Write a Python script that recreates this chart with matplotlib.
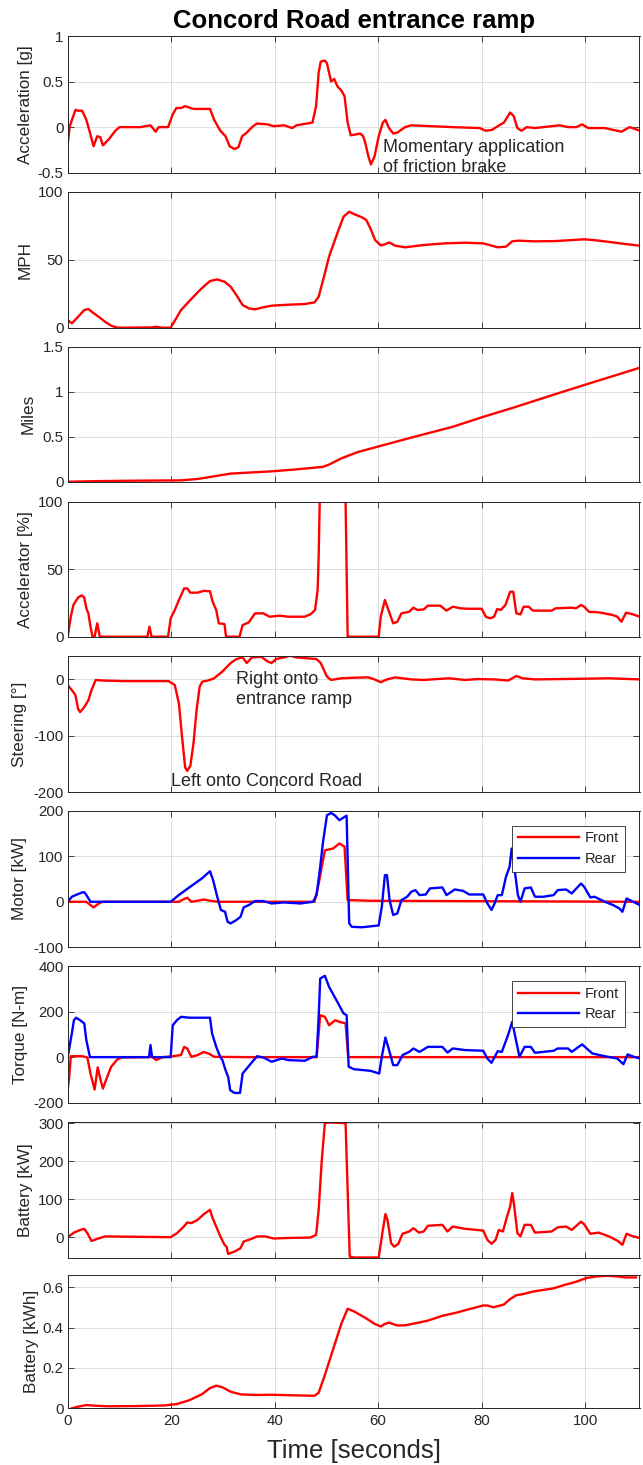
import matplotlib.pyplot as plt

plt.rcParams['font.family'] = ['Liberation Sans', 'DejaVu Sans']
plt.rcParams['axes.unicode_minus'] = False

# ---- data ----
accel_t = [0, 0.4, 1.5, 2.0, 2.8, 3.6, 4.3, 5.0, 5.7, 6.3, 6.8, 8.0, 9.2, 10.0, 14.0, 16.0, 17.0, 17.6,
           19.4, 20.3, 21.0, 21.9, 22.7, 24.3, 26.7, 27.5, 28.3, 29.5, 30.5, 31.3, 32.2, 33.0, 33.7, 34.6,
           35.8, 36.6, 38.6, 39.8, 41.8, 43.4, 44.2, 47.3, 48.0, 48.5, 48.9, 49.7, 50.1, 50.9, 51.5, 52.1,
           52.9, 53.5, 54.1, 54.7, 55.7, 56.5, 57.1, 57.5, 58.1, 58.6, 59.3, 60.1, 60.9, 61.4, 62.1, 62.9,
           63.7, 65.2, 66.4, 70.4, 74.4, 79.6, 80.8, 82.0, 83.1, 84.3, 85.5, 86.2, 86.9, 87.7, 88.7, 90.3,
           93.5, 95.1, 96.7, 98.3, 99.4, 100.6, 103.8, 106.2, 107.0, 108.6, 110.6]
accel_g = [-0.19, 0.01, 0.19, 0.18, 0.18, 0.08, -0.06, -0.21, -0.10, -0.11, -0.20, -0.13, -0.04, 0.0, 0.0,
           0.02, -0.05, 0.0, 0.0, 0.14, 0.21, 0.21, 0.23, 0.20, 0.20, 0.20, 0.08, -0.04, -0.10, -0.21, -0.24,
           -0.22, -0.10, -0.06, 0.01, 0.04, 0.03, 0.01, 0.02, -0.01, 0.02, 0.05, 0.23, 0.60, 0.72, 0.73, 0.70,
           0.50, 0.53, 0.45, 0.40, 0.34, 0.05, -0.09, -0.08, -0.07, -0.10, -0.17, -0.32, -0.41, -0.32, -0.10,
           0.05, 0.08, -0.01, -0.07, -0.06, 0.0, 0.02, 0.01, 0.0, -0.01, -0.04, -0.03, 0.01, 0.05, 0.16, 0.12,
           -0.01, -0.04, 0.0, -0.01, 0.01, 0.02, 0.0, 0.0, 0.03, -0.01, -0.01, -0.04, -0.05, 0.0, -0.04]

mph_t = [0, 0.8, 2.0, 3.2, 4.0, 4.8, 6.0, 7.2, 8.4, 9.6, 16.3, 17.1, 18.3, 19.9, 21.9, 24.3, 25.9, 27.5,
         28.9, 30.3, 31.5, 32.6, 33.8, 35.0, 36.2, 37.8, 39.4, 42.6, 45.8, 47.7, 48.5, 49.7, 50.5, 52.1,
         53.3, 54.4, 55.3, 56.9, 57.7, 58.5, 59.4, 60.5, 61.3, 62.1, 63.3, 65.2, 68.8, 72.8, 76.8, 80.3,
         81.5, 83.1, 84.7, 85.9, 87.1, 90.3, 94.3, 99.8, 102.2, 105.4, 107.8, 110.6]
mph = [5.6, 3.2, 8, 13, 13.7, 11.3, 8, 4.4, 1.5, 0, 0.2, 0.7, 0, 0, 13, 22.8, 29, 34.3, 35.5, 33.8, 30.1,
       24, 16.7, 14.2, 13.5, 15, 16.2, 16.9, 17.4, 18.6, 22.8, 40, 52.2, 69.4, 81.6, 85.3, 83.6, 81.1,
       79.2, 73, 64.5, 60.5, 61.3, 62.7, 60.3, 59.1, 60.8, 62, 62.5, 62, 60.8, 59.1, 59.6, 63.5, 64, 63.5,
       63.7, 65, 64.2, 62.7, 61.5, 60.3]

miles_t = [0.4, 4.4, 10.8, 21.9, 25.1, 28.3, 31.5, 34.6, 39.4, 44.2, 49.3, 50.5, 52.9, 56.1, 59.3, 66.4,
           74.4, 80.0, 86.3, 94.3, 99.8, 110.6]
miles = [0.0, 0.005, 0.01, 0.015, 0.03, 0.06, 0.09, 0.10, 0.115, 0.137, 0.165, 0.19, 0.26, 0.33, 0.38,
         0.49, 0.61, 0.715, 0.826, 0.974, 1.074, 1.267]

pedal_t = [0, 0.6, 1.1, 2.0, 2.7, 3.2, 3.6, 4.0, 4.4, 4.8, 5.2, 5.7, 6.2, 15.4, 15.8, 16.2, 19.4, 19.9,
           20.7, 21.5, 22.5, 23.1, 23.7, 25.1, 26.3, 27.5, 28.0, 28.7, 29.2, 30.3, 30.6, 33.2, 33.8, 35.0,
           36.2, 37.8, 39.0, 41.0, 42.6, 45.8, 47.0, 47.8, 48.3, 48.5, 48.7, 53.7, 54.1, 60.1, 60.5, 61.3,
           62.1, 62.9, 63.7, 64.5, 66.0, 66.8, 67.6, 68.8, 69.6, 72.0, 73.2, 74.4, 76.0, 77.2, 80.0, 80.8,
           81.6, 82.4, 83.0, 83.7, 84.6, 85.5, 86.1, 86.7, 87.5, 88.1, 89.1, 89.9, 93.5, 94.3, 97.4, 98.2,
           99.2, 99.8, 100.8, 101.8, 103.0, 105.4, 106.2, 107.0, 107.9, 109.0, 110.6]
pedal = [0, 14.8, 23.5, 29, 30.6, 29, 21, 17.3, 7.4, 0, 0, 9.9, 0, 0, 7.4, 0, 0, 13.6, 19.8, 27.2, 35.8,
         35.8, 32.6, 32.6, 34, 33.6, 26, 19.8, 9.9, 9.4, 0, 0, 8.6, 10.6, 17.3, 17.3, 14.8, 15.6, 14.8, 14.8,
         16.8, 19.8, 34.6, 59.3, 100, 100, 0, 0, 14.8, 27.2, 18.5, 9.9, 11.1, 17.3, 18.5, 21.5, 19.8, 20.2,
         23, 23, 19.3, 22.2, 21, 20.7, 20.7, 14.8, 13.6, 14.8, 20.5, 19.8, 23.5, 33.3, 33.3, 17.3, 16.5, 22.2,
         22.2, 19.3, 19.3, 21, 21.5, 21, 23.5, 22.2, 18.3, 18.3, 17.8, 16, 14.8, 11.1, 17.8, 16.8, 14.8]

steer_t = [0, 0.8, 1.5, 2.0, 2.4, 3.2, 4.0, 4.6, 5.4, 6.8, 10.8, 19.5, 20.7, 21.5, 22.1, 22.7, 23.1, 23.7,
           24.3, 24.9, 25.5, 26.0, 27.1, 28.3, 29.9, 31.5, 32.6, 33.8, 34.6, 35.6, 37.4, 38.6, 39.4, 40.2,
           41.8, 43.0, 44.2, 46.2, 48.1, 48.9, 50.1, 50.9, 52.9, 55.3, 58.1, 59.3, 60.5, 61.7, 63.3, 66.4,
           68.8, 73.6, 76.8, 79.2, 82.4, 85.1, 86.7, 87.9, 90.3, 98.3, 104.6, 110.6]
steer = [-10, -19, -28, -52, -58, -49, -37, -19, -1, -2, -3, -3, -10, -43, -102, -156, -162, -153, -114,
         -55, -13, -4, -2, 2, 14, 29, 36, 39, 29, 39, 40, 32, 29, 36, 39, 42, 39, 37.5, 36, 29, 5, -1, 2, 3,
         3.6, 0, -5, 0, 3.6, 0, -1, 2, -1, 0.6, 0, -2, 6, 2, 0, 1, 2, 0]

mrear_t = [0, 0.8, 1.6, 2.8, 3.2, 3.6, 4.4, 19.9, 21.5, 23.5, 25.9, 27.5, 28.1, 28.9, 29.6, 30.4, 30.9,
           31.5, 32.6, 33.4, 34.0, 35.0, 36.2, 37.8, 39.4, 41.8, 45.0, 47.4, 48.1, 48.8, 49.3, 50.1, 50.9,
           51.7, 52.5, 53.3, 53.9, 54.4, 54.9, 56.9, 60.1, 60.7, 61.3, 61.7, 62.2, 62.9, 63.7, 64.5, 65.6,
           66.4, 67.2, 68.0, 69.2, 70.0, 72.4, 73.2, 74.8, 76.4, 77.6, 80.3, 81.1, 81.9, 82.5, 83.1, 83.9,
           84.7, 85.4, 85.8, 86.3, 87.0, 87.5, 88.3, 89.5, 90.3, 91.9, 93.9, 94.7, 96.3, 97.4, 99.2, 99.8,
           101.0, 101.8, 103.8, 105.4, 106.6, 107.2, 108.0, 109.0, 110.6]
mrear = [0, 11, 15, 20.5, 21, 15, 0, 0, 15, 31.5, 51, 67, 47.5, 11, -18, -22, -44, -47.5, -40, -33, -12.4,
         -7.3, 1.5, 1.5, -3.7, -1.5, -3.7, 0, 14.6, 77, 128, 190, 195, 189, 179, 185, 189, -47.5, -55, -56,
         -52, -11, 58.5, 58.5, 3.7, -29, -25.6, 3.7, 11, 22, 25.6, 14.6, 16, 29.3, 31.5, 14.6, 27, 24, 16,
         16, -3.7, -18, -3.7, 14.6, 14.6, 55, 77, 117, 77, 14.6, 0, 29.3, 31.5, 11, 11, 14.6, 25.6, 27, 18.3,
         40, 33, 9.5, 11, 0, -7.3, -14.6, -22, 7.3, 1.5, -7.3]

mfront_t = [0, 3.6, 4.4, 5.0, 6.0, 6.8, 21.5, 22.3, 23.1, 23.9, 25.1, 26.3, 27.5, 29.1, 47.7, 48.5, 49.1,
            49.7, 50.5, 51.3, 52.5, 53.5, 54.1, 58.5, 110.6]
mfront = [0, 0, -7.3, -12.4, -3.7, 0, 0, 5, 8.8, 0, 2.2, 5, 2.2, 0, 0, 40, 77, 113, 115, 117, 128, 121,
          3.7, 2.2, 0]

trear_t = [0, 0.8, 1.2, 1.6, 2.4, 3.2, 3.6, 4.3, 15.7, 16.0, 16.3, 19.9, 20.3, 21.1, 21.9, 23.5, 27.5,
           27.9, 28.7, 29.5, 29.9, 30.5, 31.0, 31.4, 32.2, 33.3, 33.8, 34.6, 35.4, 36.6, 37.8, 39.4, 41.4,
           42.6, 45.8, 47.4, 48.1, 48.5, 48.8, 49.7, 50.5, 52.1, 53.3, 53.9, 54.3, 55.3, 58.5, 60.2, 60.7,
           61.4, 62.1, 62.9, 63.7, 64.7, 66.0, 66.8, 68.0, 69.6, 72.4, 73.4, 74.4, 76.8, 80.3, 81.1, 81.9,
           83.1, 83.9, 85.1, 85.9, 86.5, 87.3, 88.3, 89.5, 90.3, 93.9, 94.7, 96.7, 97.4, 99.4, 101.4, 103.8,
           106.2, 107.4, 108.2, 109.4, 110.6]
trear = [0, 104, 162, 173, 162, 148, 75, 0, 0, 53, 0, 0, 140, 162, 177, 173, 173, 104, 45, 0, -13, -57,
         -86, -145, -157, -157, -72, -50, -28, 4, -1.5, -20, -6, -13, -16, 1.5, 1.5, 177, 345, 357, 309, 243,
         192, 184, -42, -53, -60, -72, 1.5, 86, 31, -35, -35, 9, 23, 38, 23, 45, 45, 20, 38, 31, 28, -6, -25,
         26, 23, 97, 155, 89, 1.5, 45, 45, 19, 28, 38, 38, 23, 56, 16, 4, -6, -31, 12, 1.5, -6]

tfront_t = [0, 0.3, 0.6, 2.8, 3.8, 4.4, 5.2, 5.8, 6.2, 6.8, 7.4, 8.4, 9.6, 10.4, 15.5, 16.3, 17.1, 18.3,
            20.3, 21.9, 22.5, 23.1, 23.9, 25.1, 26.3, 27.5, 28.3, 34.6, 48.1, 48.8, 49.7, 50.5, 51.7, 52.5,
            53.7, 54.2, 110.6]
tfront = [-145, -86, 4, 4, -1.5, -72, -142, -45, -86, -138, -101, -42, -10, -1.5, 0, 1.5, -13, 0, 4, 9,
          45, 38, 1.5, 9, 23, 13, 1.5, 0, 0, 184, 177, 140, 162, 155, 148, 0, 0]

batt_t = [0, 1.2, 2.4, 3.2, 3.8, 4.6, 5.6, 7.2, 19.9, 21.1, 22.3, 23.1, 23.9, 25.1, 26.3, 27.5, 27.9, 28.7,
          29.5, 30.3, 30.7, 31.0, 32.2, 33.4, 34.0, 35.4, 36.6, 38.2, 39.8, 42.6, 46.9, 48.0, 48.5, 49.1,
          49.7, 50.5, 53.7, 54.5, 55.3, 60.1, 60.9, 61.4, 61.8, 62.5, 63.1, 63.9, 64.7, 66.0, 66.8, 67.9,
          68.8, 69.6, 72.4, 73.4, 74.4, 76.8, 80.3, 81.1, 81.9, 82.7, 83.3, 84.1, 84.9, 85.5, 85.9, 86.3,
          86.9, 87.5, 88.3, 89.5, 90.3, 93.5, 94.7, 96.3, 97.4, 99.2, 99.8, 101.0, 102.6, 104.6, 106.2,
          107.2, 108.0, 109.0, 110.6]
batt_kw = [0, 12, 19, 22, 10.5, -10, -5, 2, 0, 10.5, 26, 38.6, 37, 45.6, 60.5, 72, 54, 28, 2, -20, -25, -44,
           -38, -29, -11.4, -5, 2, 2, -3.5, -2, -1, 6, 72, 203, 300, 302, 300, -51, -53.5, -53.5, 19, 61, 46,
           -16, -25, -17.5, 9, 15, 23.7, 12, 15, 30, 32.5, 15, 28, 22, 17.5, -7, -17.5, -7, 19, 15, 54, 80.7,
           116, 80.7, 10.5, 2, 32.5, 32.5, 12, 15, 26, 28, 19, 41, 34, 9, 12, 2, -9, -20, 9, 3.5, -2.6]

kwh_t = [0.8, 2.0, 3.6, 5.2, 7.6, 13.2, 18.7, 21.1, 23.5, 25.9, 27.5, 28.7, 29.9, 31.5, 33.4, 36.2, 39.4,
         44.2, 47.7, 48.5, 49.7, 51.3, 52.9, 54.1, 55.3, 57.7, 59.3, 60.5, 61.3, 62.1, 63.7, 65.2, 67.2,
         69.6, 72.4, 75.2, 77.6, 80.3, 81.1, 82.3, 84.3, 85.5, 86.7, 87.9, 89.9, 91.9, 93.9, 95.9, 98.2,
         100.2, 102.2, 104.2, 106.2, 107.8, 109.8]
kwh = [0.0, 0.008, 0.016, 0.013, 0.01, 0.011, 0.014, 0.021, 0.04, 0.069, 0.1, 0.112, 0.104, 0.082, 0.069,
       0.066, 0.067, 0.064, 0.062, 0.077, 0.165, 0.293, 0.42, 0.493, 0.48, 0.445, 0.418, 0.405, 0.418, 0.424,
       0.41, 0.411, 0.421, 0.434, 0.458, 0.474, 0.491, 0.509, 0.509, 0.5, 0.514, 0.541, 0.56, 0.565, 0.578,
       0.586, 0.594, 0.61, 0.626, 0.645, 0.653, 0.656, 0.653, 0.648, 0.648]

# ---- layout (pixel boxes of the 9 panels) ----
W, H = 643, 1465
left_px, right_px = 67.7, 639.5
panel_px = [(36, 172.7), (191.7, 327.7), (346.7, 481.7), (501.7, 636.7), (655.7, 792.3),
            (810.7, 947.3), (966, 1102.7), (1121.7, 1257.7), (1275, 1408.3)]

DARK = '#262626'
RED = '#FF0000'
BLUE = '#0000FF'
LW = 1.7

fig = plt.figure(figsize=(W / 100, H / 100), dpi=100)
axes = []
for top, bot in panel_px:
    ax = fig.add_axes([left_px / W, 1 - bot / H, (right_px - left_px) / W, (bot - top) / H])
    ax.set_xlim(0, 110.5)
    ax.set_xticks([0, 20, 40, 60, 80, 100])
    ax.grid(True, color='#dcdcdc', linewidth=0.7)
    ax.set_axisbelow(True)
    ax.tick_params(direction='in', top=True, right=True, length=4, width=0.6,
                   colors=DARK, labelsize=10.8, pad=3)
    for s in ax.spines.values():
        s.set_color(DARK)
        s.set_linewidth(0.7)
    axes.append(ax)

for ax in axes[:-1]:
    ax.tick_params(labelbottom=False)


def ylab(ax, text, right_edge_px):
    ax.set_ylabel(text, fontsize=12.3, color=DARK)
    ax.yaxis.set_label_coords((right_edge_px - left_px) / (right_px - left_px), 0.5)


# 1 acceleration
ax = axes[0]
ax.plot(accel_t, accel_g, color=RED, lw=LW)
ax.set_ylim(-0.5, 1)
ax.set_yticks([-0.5, 0, 0.5, 1])
ax.set_yticklabels(['-0.5', '0', '0.5', '1'])
ylab(ax, 'Acceleration [g]', 33)
ax.text(61, -0.13, 'Momentary application\nof friction brake', fontsize=13, color=DARK,
        va='top', ha='left', linespacing=1.25, clip_on=False)

# 2 speed
ax = axes[1]
ax.plot(mph_t, mph, color=RED, lw=LW)
ax.set_ylim(0, 100)
ax.set_yticks([0, 50, 100])
ylab(ax, 'MPH', 33)

# 3 distance
ax = axes[2]
ax.plot(miles_t, miles, color=RED, lw=LW)
ax.set_ylim(0, 1.5)
ax.set_yticks([0, 0.5, 1, 1.5])
ax.set_yticklabels(['0', '0.5', '1', '1.5'])
ylab(ax, 'Miles', 36)

# 4 accelerator pedal
ax = axes[3]
ax.plot(pedal_t, pedal, color=RED, lw=LW)
ax.set_ylim(0, 100)
ax.set_yticks([0, 50, 100])
ylab(ax, 'Accelerator [%]', 33)

# 5 steering
ax = axes[4]
ax.plot(steer_t, steer, color=RED, lw=LW)
ax.set_ylim(-200, 42)
ax.set_yticks([-200, -100, 0])
ylab(ax, 'Steering [°]', 27)
ax.text(32.6, 15, 'Right onto\nentrance ramp', fontsize=13, color=DARK, va='top', ha='left',
        linespacing=1.25)
ax.text(19.9, -181, 'Left onto Concord Road', fontsize=13, color=DARK, va='center', ha='left')

# 6 motor power
ax = axes[5]
ax.plot(mfront_t, mfront, color=RED, lw=LW, label='Front')
ax.plot(mrear_t, mrear, color=BLUE, lw=LW, label='Rear')
ax.set_ylim(-100, 200)
ax.set_yticks([-100, 0, 100, 200])
ylab(ax, 'Motor [kW]', 27)

# 7 torque
ax = axes[6]
ax.plot(tfront_t, tfront, color=RED, lw=LW, label='Front')
ax.plot(trear_t, trear, color=BLUE, lw=LW, label='Rear')
ax.set_ylim(-200, 400)
ax.set_yticks([-200, 0, 200, 400])
ylab(ax, 'Torque [N-m]', 28)

for ax in axes[5:7]:
    leg = ax.legend(loc='upper right', bbox_to_anchor=(0.987, 0.945), fontsize=10.5,
                    handlelength=4.2, handletextpad=0.4, borderpad=0.4, labelspacing=0.45,
                    fancybox=False, framealpha=1, edgecolor=DARK)
    leg.get_frame().set_linewidth(0.6)
    for t in leg.get_texts():
        t.set_color(DARK)

# 8 battery power
ax = axes[7]
ax.plot(batt_t, batt_kw, color=RED, lw=LW)
ax.set_ylim(-54, 304)
ax.set_yticks([0, 100, 200, 300])
ylab(ax, 'Battery [kW]', 33)

# 9 battery energy
ax = axes[8]
ax.plot(kwh_t, kwh, color=RED, lw=LW)
ax.set_ylim(0, 0.66)
ax.set_yticks([0, 0.2, 0.4, 0.6])
ax.set_yticklabels(['0', '0.2', '0.4', '0.6'])
ylab(ax, 'Battery [kWh]', 39)
ax.tick_params(axis='x', pad=4)

xc = (left_px + right_px) / 2 / W
fig.text(xc, 1 - 28 / H, 'Concord Road entrance ramp', fontsize=18.5, fontweight='bold',
         ha='center', va='baseline', color='black')
fig.text(xc, 1 - 1458 / H, 'Time [seconds]', fontsize=18.5, ha='center', va='baseline', color=DARK)

fig.savefig('out.png', dpi=100)
